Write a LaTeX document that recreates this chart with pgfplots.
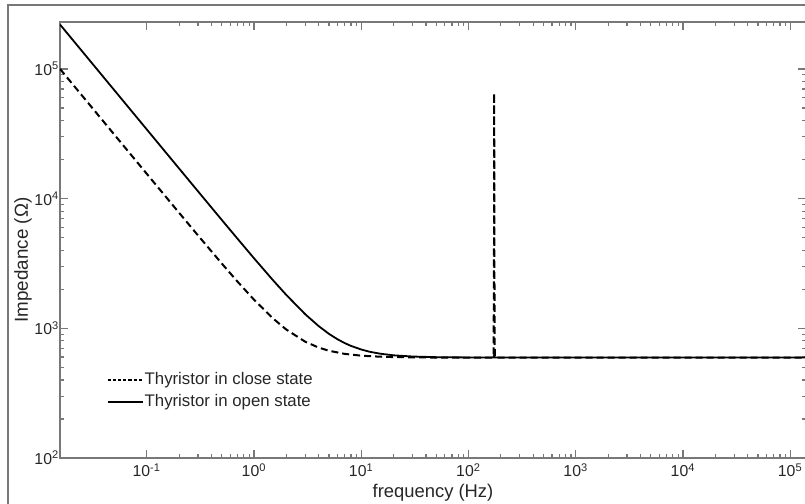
\documentclass[border=0pt]{standalone}
\usepackage{fontspec}
\setmainfont{Liberation Sans}
\usepackage{pgfplots}
\pgfplotsset{compat=1.18}
\definecolor{axgray}{RGB}{120,120,120}
\begin{document}
\begin{tikzpicture}
\useasboundingbox (0,0) rectangle (402.5pt,252pt);
\draw[axgray, line width=0.8pt] (4pt,0) -- (4pt,249.5pt) -- (402.5pt,249.5pt);
\begin{axis}[
  at={(30pt,23pt)}, anchor=south west,
  scale only axis, width=373pt, height=218pt,
  xmode=log, ymode=log,
  xmin=0.0155, xmax=1.4e5, ymin=100, ymax=2.3e5,
  axis line style={axgray, line width=0.9pt},
  every tick/.style={axgray, line width=0.6pt},
  major tick length=3.8pt, minor tick length=1.8pt,
  xtick={0.1,1,10,100,1000,10000,100000},
  xticklabels={10\textsuperscript{-1},10\textsuperscript{0},10\textsuperscript{1},10\textsuperscript{2},10\textsuperscript{3},10\textsuperscript{4},10\textsuperscript{5}},
  ytick={100,1000,10000,100000},
  yticklabels={10\textsuperscript{2},10\textsuperscript{3},10\textsuperscript{4},10\textsuperscript{5}},
  tick label style={font=\fontsize{7.9}{8.5}\selectfont, black!85, inner sep=1pt},
  xticklabel style={yshift=-1.5pt},
  yticklabel style={xshift=0.8pt},
  xlabel={frequency (Hz)}, ylabel={Impedance (Ω)},
  xlabel style={font=\fontsize{9.2}{10}\selectfont, black!85, inner sep=0pt, at={(axis description cs:0.5,-0.08)}, anchor=center},
  ylabel style={font=\fontsize{9.4}{10}\selectfont, black!85, inner sep=0pt, at={(axis description cs:-0.0496,0.454)}, anchor=center},
  legend style={draw=none, fill=none, at={(axis description cs:0.062,0.205)}, anchor=north west,
    font=\fontsize{8.4}{9}\selectfont, row sep=0.5pt, inner sep=0pt, nodes={inner xsep=0.5pt, inner ysep=1.5pt}, text=black!85},
  legend cell align=left,
]
\addplot[black, line width=1pt, dash pattern=on 3.5pt off 2pt,
  legend image code/.code={\draw[black, line width=1pt, dash pattern=on 1.6pt off 1pt] (0pt,0pt) -- (17.5pt,0pt);}] coordinates {
(0.0155,100000) (0.02,77500) (0.03,51667) (0.05,31000) (0.1,15511) (0.2,7773)
(0.3,5201) (0.5,3157) (0.7,2293) (1,1660) (1.5,1192) (2,977) (3,788) (4,710)
(5,671) (7,635) (10,615) (15,604) (20,600) (30,597) (50,595) (168,595)
(171,610) (172.5,3000) (173.3,65000) (174.2,3000) (175.5,610) (178,595)
(1000,595) (10000,595) (140000,595)};
\addlegendentry{Thyristor in close state}
\addplot[black, line width=0.9pt,
  legend image code/.code={\draw[black, line width=1pt] (0pt,0pt) -- (17.5pt,0pt);}] coordinates {
(0.0155,220000) (0.02,170500) (0.03,113667) (0.05,68200) (0.1,34105) (0.2,17060)
(0.3,11383) (0.5,6846) (0.7,4910) (1,3461) (1.5,2350) (2,1806) (3,1283) (4,1040)
(5,905) (6,823) (7,769) (8,732) (10,686) (12,659) (15,637) (20,619) (30,606)
(50,599) (100,596) (170,595) (173,620) (176,595) (1000,595) (10000,595) (140000,595)};
\addlegendentry{Thyristor in open state}
\end{axis}
\end{tikzpicture}
\end{document}
